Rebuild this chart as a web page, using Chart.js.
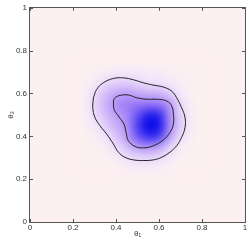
<!DOCTYPE html>
<html>
<head>
<meta charset="utf-8">
<script src="https://cdn.jsdelivr.net/npm/chart.js@4"></script>
<style>
  html, body { margin: 0; padding: 0; background: #fff; }
</style>
</head>
<body>
<canvas id="c" width="249" height="244"></canvas>
<script>
// grid centres of the density image (theta1 across, theta2 down the rows)
const gridTheta1 = [0.25, 0.30, 0.35, 0.40, 0.45, 0.50, 0.55, 0.60, 0.65, 0.70, 0.75, 0.80];
const gridTheta2 = [0.75, 0.70, 0.65, 0.60, 0.55, 0.50, 0.45, 0.40, 0.35, 0.30, 0.25];
const density = [
  [0, 0, 0, 0, 0, 0, 0, 0, 0, 0, 0, 0],
  [0, 0.02, 0.05, 0.07, 0.08, 0.07, 0.06, 0.05, 0.03, 0.01, 0, 0],
  [0.01, 0.06, 0.13, 0.16, 0.17, 0.14, 0.11, 0.10, 0.08, 0.04, 0.01, 0],
  [0.02, 0.12, 0.22, 0.30, 0.33, 0.30, 0.27, 0.26, 0.18, 0.08, 0.02, 0],
  [0.03, 0.14, 0.26, 0.38, 0.45, 0.47, 0.50, 0.48, 0.36, 0.13, 0.03, 0],
  [0.02, 0.12, 0.22, 0.33, 0.42, 0.62, 0.85, 0.80, 0.40, 0.16, 0.04, 0],
  [0.01, 0.08, 0.17, 0.27, 0.38, 0.70, 1.00, 0.92, 0.42, 0.17, 0.04, 0],
  [0, 0.03, 0.10, 0.20, 0.34, 0.60, 0.78, 0.70, 0.33, 0.12, 0.03, 0],
  [0, 0.01, 0.04, 0.12, 0.22, 0.34, 0.38, 0.32, 0.16, 0.05, 0.01, 0],
  [0, 0, 0.01, 0.05, 0.11, 0.14, 0.15, 0.13, 0.07, 0.02, 0, 0],
  [0, 0, 0, 0.01, 0.03, 0.05, 0.05, 0.04, 0.02, 0, 0, 0]
];

// contour lines
const outerTheta1 = [0.295, 0.310, 0.341, 0.388, 0.434, 0.481, 0.527, 0.574, 0.620, 0.659, 0.682, 0.705, 0.721, 0.721, 0.705, 0.682, 0.651, 0.612, 0.574, 0.527, 0.481, 0.442, 0.411, 0.388, 0.357, 0.326, 0.302, 0.292];
const outerTheta2 = [0.580, 0.619, 0.650, 0.670, 0.673, 0.664, 0.650, 0.639, 0.630, 0.611, 0.580, 0.534, 0.488, 0.441, 0.395, 0.356, 0.326, 0.302, 0.290, 0.287, 0.290, 0.302, 0.326, 0.364, 0.410, 0.449, 0.488, 0.534];
const innerTheta1 = [0.388, 0.395, 0.419, 0.457, 0.496, 0.543, 0.589, 0.636, 0.659, 0.667, 0.667, 0.651, 0.620, 0.574, 0.527, 0.488, 0.457, 0.447, 0.437, 0.411, 0.391];
const innerTheta2 = [0.565, 0.580, 0.591, 0.593, 0.580, 0.573, 0.573, 0.565, 0.542, 0.503, 0.457, 0.418, 0.383, 0.356, 0.346, 0.353, 0.380, 0.418, 0.457, 0.495, 0.526];

const axisTicks = [0, 0.2, 0.4, 0.6, 0.8, 1];

// colour map: pink background -> lavender -> purple -> blue
const cmap = [
  [0.00, [253, 240, 240]],
  [0.08, [244, 232, 250]],
  [0.30, [196, 166, 248]],
  [0.50, [145, 112, 246]],
  [0.75, [60, 50, 240]],
  [1.00, [10, 10, 232]]
];
function colorAt(v) {
  for (let i = 1; i < cmap.length; i++) {
    if (v <= cmap[i][0]) {
      const t = (v - cmap[i - 1][0]) / (cmap[i][0] - cmap[i - 1][0]);
      return cmap[i - 1][1].map((c, k) => Math.round(c + t * (cmap[i][1][k] - c)));
    }
  }
  return cmap[cmap.length - 1][1];
}

function toPoints(xs, ys) {
  const pts = xs.map((x, i) => ({ x: x, y: ys[i] }));
  pts.push(pts[0]); // close the loop
  return pts;
}

const heatPlugin = {
  id: 'heat',
  beforeDatasetsDraw(chart) {
    const { ctx, chartArea: a, scales: { x, y } } = chart;
    ctx.save();
    ctx.beginPath();
    ctx.rect(a.left, a.top, a.right - a.left, a.bottom - a.top);
    ctx.clip();
    const bg = colorAt(0);
    ctx.fillStyle = `rgb(${bg.join(',')})`;
    ctx.fillRect(a.left, a.top, a.right - a.left, a.bottom - a.top);

    const w = gridTheta1.length, h = gridTheta2.length;
    const img = document.createElement('canvas');
    img.width = w; img.height = h;
    const ic = img.getContext('2d');
    const data = ic.createImageData(w, h);
    density.forEach((row, r) => {
      row.forEach((v, c) => {
        const col = colorAt(v);
        const i = (r * w + c) * 4;
        data.data[i] = col[0]; data.data[i + 1] = col[1]; data.data[i + 2] = col[2]; data.data[i + 3] = 255;
      });
    });
    ic.putImageData(data, 0, 0);

    const half = 0.025;
    const x0 = x.getPixelForValue(gridTheta1[0] - half);
    const x1 = x.getPixelForValue(gridTheta1[w - 1] + half);
    const y0 = y.getPixelForValue(gridTheta2[0] + half);
    const y1 = y.getPixelForValue(gridTheta2[h - 1] - half);
    ctx.imageSmoothingEnabled = true;
    ctx.imageSmoothingQuality = 'high';
    ctx.filter = 'blur(2px)';
    ctx.drawImage(img, x0, y0, x1 - x0, y1 - y0);
    ctx.restore();
  }
};

const framePlugin = {
  id: 'frame',
  afterDraw(chart) {
    const { ctx, chartArea: a, scales: { x, y } } = chart;
    ctx.save();
    ctx.strokeStyle = '#555';
    ctx.lineWidth = 1;
    ctx.strokeRect(Math.round(a.left) - 0.5, Math.round(a.top) - 0.5,
      Math.round(a.right - a.left) + 1, Math.round(a.bottom - a.top) + 1);
    ctx.beginPath();
    axisTicks.forEach(t => {
      const px = Math.round(x.getPixelForValue(t)) + 0.5;
      ctx.moveTo(px, a.bottom); ctx.lineTo(px, a.bottom - 3);
      ctx.moveTo(px, a.top); ctx.lineTo(px, a.top + 3);
      const py = Math.round(y.getPixelForValue(t)) + 0.5;
      ctx.moveTo(a.left, py); ctx.lineTo(a.left + 3, py);
      ctx.moveTo(a.right, py); ctx.lineTo(a.right - 3, py);
    });
    ctx.stroke();
    ctx.restore();
  }
};

const tickFont = { family: 'Liberation Sans, Arial, sans-serif', size: 8 };

new Chart(document.getElementById('c'), {
  type: 'scatter',
  data: {
    datasets: [
      {
        label: 'outer',
        data: toPoints(outerTheta1, outerTheta2),
        showLine: true,
        borderColor: '#222',
        borderWidth: 1,
        pointRadius: 0,
        tension: 0.4
      },
      {
        label: 'inner',
        data: toPoints(innerTheta1, innerTheta2),
        showLine: true,
        borderColor: '#222',
        borderWidth: 1,
        pointRadius: 0,
        tension: 0.4
      }
    ]
  },
  options: {
    responsive: false,
    animation: false,
    layout: { padding: { top: 6, right: 4, left: 0, bottom: 0 } },
    plugins: { legend: { display: false }, tooltip: { enabled: false } },
    scales: {
      x: {
        type: 'linear', min: 0, max: 1,
        afterFit: s => { s.height = 22; },
        afterBuildTicks: s => { s.ticks = axisTicks.map(v => ({ value: v })); },
        grid: { display: false, drawTicks: false },
        border: { display: false },
        ticks: { color: '#333', font: tickFont, padding: 1, maxRotation: 0,
          callback: v => String(+v.toFixed(1)) },
        title: { display: true, text: 'θ₁', color: '#333', font: tickFont, padding: { top: 0, bottom: 5 } }
      },
      y: {
        type: 'linear', min: 0, max: 1,
        afterFit: s => { s.width = 30; },
        afterBuildTicks: s => { s.ticks = axisTicks.map(v => ({ value: v })); },
        grid: { display: false, drawTicks: false },
        border: { display: false },
        ticks: { color: '#333', font: tickFont, padding: 3,
          callback: v => String(+v.toFixed(1)) },
        title: { display: true, text: 'θ₂', color: '#333', font: tickFont, padding: { top: 6, bottom: 0 } }
      }
    }
  },
  plugins: [heatPlugin, framePlugin]
});
</script>
</body>
</html>
